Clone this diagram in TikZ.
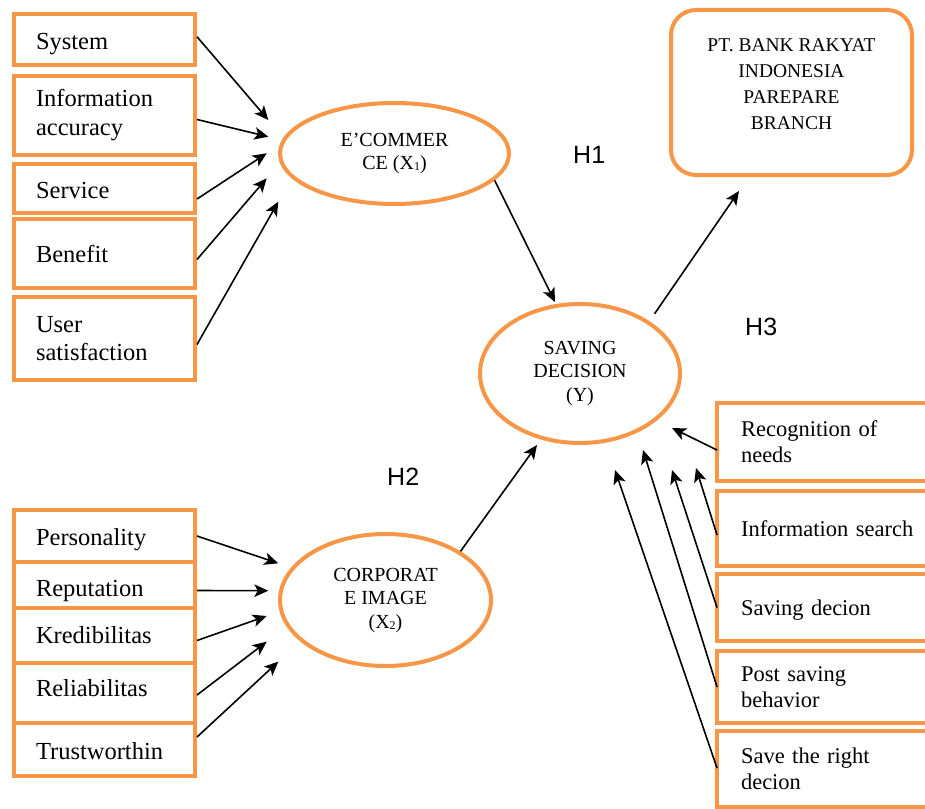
\documentclass[tikz,border=0pt]{standalone}
\usepackage{fontspec}
\setmainfont{Liberation Serif}
\newfontfamily\arialfont{Liberation Sans}
\usetikzlibrary{arrows.meta,shapes.geometric}
\definecolor{org}{HTML}{F79646}
\newcommand{\subdig}[1]{\raisebox{-1pt}{\fontsize{12}{12}\selectfont #1}}
\begin{document}
\begin{tikzpicture}[x=1pt,y=-1pt,
  obox/.style={draw=org,line width=4pt,rectangle,inner xsep=22pt,inner ysep=0pt,align=left,anchor=center},
  lbox/.style={obox,minimum width=181pt,text width=137pt,font=\fontsize{24.5}{28.5}\selectfont},
  rbox/.style={obox,draw=none,minimum width=274pt,text width=230pt,font=\fontsize{22.5}{26}\selectfont},
  rside/.style={draw=org,line width=4pt,line join=miter,line cap=butt},
  oell/.style={draw=org,line width=4pt,ellipse,inner sep=0pt,align=center,font=\fontsize{20}{23.5}\selectfont},
  arr/.style={-{Stealth[length=14pt,width=12.5pt,inset=3.5pt]},line width=1.6pt,black},
  hlab/.style={font=\arialfont\fontsize{25}{25}\selectfont,anchor=base west,inner sep=0pt}
]
\fill[white] (0,0) rectangle (925,808);
\useasboundingbox (0,0) rectangle (925,808);
\coordinate (redge) at (925,0);

% top-left indicator boxes
\node[lbox,minimum height=51pt,text height=24.7pt] (sys) at (104.5,39.5) {System};
\node[lbox,minimum height=79pt] (info) at (104.5,115) {Information\\accuracy};
\node[lbox,minimum height=49pt,text height=21pt] (serv) at (104.5,188.5) {Service};
\node[lbox,minimum height=69pt] (ben) at (104.5,253.5) {Benefit};
\node[lbox,minimum height=83pt] (user) at (104.5,338.5) {User\\satisfaction};

% bottom-left indicator boxes
\node[lbox,minimum height=52pt,text height=23.3pt] (pers) at (104.5,536) {Personality};
\node[lbox,minimum height=46pt,text height=28.7pt] (rep) at (104.5,585) {Reputation};
\node[lbox,minimum height=55pt] (kred) at (104.5,635.5) {Kredibilitas};
\node[lbox,minimum height=60pt,text depth=9.4pt] (rel) at (104.5,693) {Reliabilitas};
\node[lbox,minimum height=53pt,text height=19.5pt] (trust) at (104.5,749.5) {Trustworthin};

% right indicator boxes (open on the right, running off the page)
\node[rbox,minimum height=74pt] (rec) at (856,442) {Recognition of\\needs};
\node[rbox,minimum height=71pt] (isearch) at (856,528.5) {Information search};
\node[rbox,minimum height=63pt,text height=21.4pt] (sdec) at (856,607.5) {Saving decion};
\node[rbox,minimum height=68pt] (post) at (856,687) {Post saving\\behavior};
\node[rbox,minimum height=72pt] (sright) at (856,769) {Save the right\\decion};
\foreach \b in {rec,isearch,sdec,post,sright}
  \draw[rside] (\b.north west -| redge) -- (\b.north west) -- (\b.south west) -- (\b.south west -| redge);

% ellipses
\node[oell,minimum width=229pt,minimum height=101pt] (ecom) at (394.5,153.5) {E’COMMER\\CE (X\subdig{1})};
\node[oell,minimum width=200pt,minimum height=139pt] (sav) at (580,373.5) {SAVING\\DECISION\\(Y)};
\node[oell,minimum width=211pt,minimum height=132pt] (corp) at (385.5,600) {CORPORAT\\E IMAGE\\(X\subdig{2})};

% bank box
\node[draw=org,line width=4pt,rounded corners=25pt,minimum width=241pt,minimum height=165pt] (bank) at (791.5,92.5) {};
\node[align=center,font=\fontsize{19.5}{26}\selectfont] (banktxt) at (791.5,84) {PT. BANK RAKYAT\\INDONESIA\\PAREPARE\\BRANCH};

% hypothesis labels
\node[hlab] (h1) at (573,163) {H1};
\node[hlab] (h2) at (387,485) {H2};
\node[hlab] (h3) at (745,335) {H3};

% arrow tip coordinates
\coordinate (ta1) at (268.3,120);
\coordinate (ta2) at (268.3,136.7);
\coordinate (ta3) at (266.7,153.3);
\coordinate (ta4) at (266.7,178.3);
\coordinate (ta5) at (278.3,201.7);
\coordinate (tb1) at (278.3,563.3);
\coordinate (tb2) at (268.3,590.7);
\coordinate (tb3) at (266.7,616);
\coordinate (tb4) at (266.7,641.7);
\coordinate (tb5) at (278.3,661.7);
\coordinate (tr1) at (672,428);
\coordinate (tr2) at (696,468);
\coordinate (tr3) at (672,470);
\coordinate (tr4) at (643,450);
\coordinate (tr5) at (615,470);
\coordinate (th1) at (555,302);
\coordinate (th2) at (537,445);
\coordinate (th3) at (739,191);

% arrows
\draw[arr] ([yshift=2.8pt]sys.east) -- (ta1);
\draw[arr] ([yshift=-4.5pt]info.east) -- (ta2);
\draw[arr] ([yshift=-10.5pt]serv.east) -- (ta3);
\draw[arr] ([yshift=-6pt]ben.east) -- (ta4);
\draw[arr] ([yshift=-6pt]user.east) -- (ta5);

\draw[arr] (pers.east) -- (tb1);
\draw[arr] ([yshift=-5.5pt]rep.east) -- (tb2);
\draw[arr] ([yshift=-5pt]kred.east) -- (tb3);
\draw[arr] ([yshift=-2pt]rel.east) -- (tb4);
\draw[arr] ([yshift=12.5pt]trust.east) -- (tb5);

\draw[arr] ([yshift=-8pt]rec.west) -- (tr1);
\draw[arr] ([yshift=-6.5pt]isearch.west) -- (tr2);
\draw[arr] (sdec.west) -- (tr3);
\draw[arr] (post.west) -- (tr4);
\draw[arr] ([yshift=1pt]sright.west) -- (tr5);

\draw[arr] (ecom.-15) -- (th1);
\draw[arr] (corp.33) -- (th2);
\draw[arr,shorten <=9pt] (sav.37) -- (th3);
\end{tikzpicture}
\end{document}
